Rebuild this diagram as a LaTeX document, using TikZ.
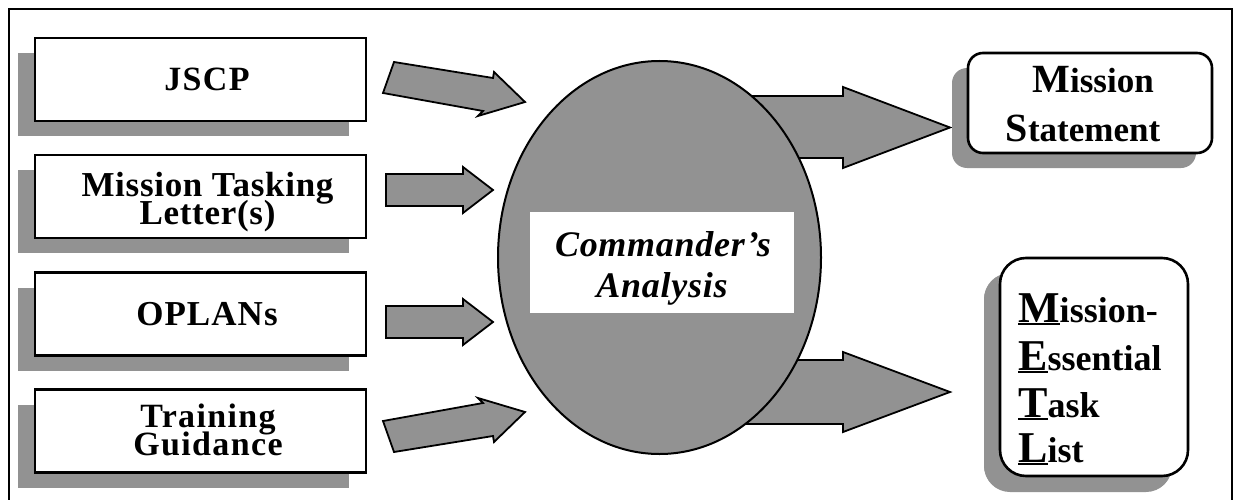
\documentclass[tikz,border=0pt]{standalone}
\usepackage{fontspec}
\setmainfont{Liberation Serif}
\usetikzlibrary{shapes.geometric,shadows}
\definecolor{shade}{RGB}{146,146,146}
\newcommand\capfirst[2]{{\fontsize{#1}{#1}\selectfont #2}}
\newcommand\ulcap[1]{\setbox0\hbox{\fontsize{44}{44}\selectfont #1}\rlap{\rule[-3pt]{\wd0}{2.4pt}}\box0}
\newcommand\tightskip{\lineskiplimit=-100pt\relax}
\begin{document}
\begin{tikzpicture}[x=1pt,y=-1pt,
  srcbox/.style={draw, line width=2.4pt, fill=white, minimum width=331pt, minimum height=83pt, inner sep=0pt,
    drop shadow={shadow xshift=-17pt, shadow yshift=-15pt, fill=shade, opacity=1}},
  outbox/.style={draw, line width=2.6pt, fill=white, inner sep=0pt,
    drop shadow={shadow xshift=-16pt, shadow yshift=-15pt, fill=shade, opacity=1}},
  srctext/.style={anchor=base, inner sep=0pt, align=center},
  blockarrow/.style={draw, line width=1.8pt, fill=shade, line join=miter},
  lbl/.style={anchor=base, inner sep=0pt},
  metl/.style={anchor=base west, inner sep=0pt, font=\fontsize{36}{36}\selectfont\bfseries}]
\useasboundingbox (0,0) rectangle (1236,500);
% frame
\draw[line width=2pt] (9,502) -- (9,9) -- (1232,9) -- (1232,502);

% source boxes
\node[srcbox] (jscp) at (200.5,79.5) {};
\node[srcbox] (mtl) at (200.5,196.5) {};
\node[srcbox] (oplan) at (200.5,314) {};
\node[srcbox] (train) at (200.5,431) {};
\node[srctext, font=\fontsize{34}{34}\selectfont\bfseries\addfontfeatures{LetterSpace=4}] (jscpt) at (207,90.7) {JSCP};
\node[srctext, font=\fontsize{35}{27.5}\selectfont\tightskip\bfseries\addfontfeatures{LetterSpace=2}] (mtlt) at (207.5,224) {Mission Tasking\\Letter(s)};
\node[srctext, font=\fontsize{35}{35}\selectfont\bfseries\addfontfeatures{LetterSpace=3}] (oplant) at (207,325) {OPLANs};
\node[srctext, font=\fontsize{34}{28}\selectfont\tightskip\bfseries\addfontfeatures{LetterSpace=4}] (traint) at (208,455) {Training\\Guidance};

% input arrows
\draw[blockarrow] (394,62) -- (493,78) -- (494,72) -- (525,102) -- (478,116) -- (483,111) -- (383,93) -- cycle;
\draw[blockarrow] (386,174) -- (463,174) -- (463,167) -- (493,190) -- (463,213) -- (463,206) -- (386,206) -- cycle;
\draw[blockarrow] (386,306) -- (463,306) -- (463,299) -- (493,322) -- (463,345) -- (463,338) -- (386,338) -- cycle;
\draw[blockarrow] (394,452) -- (493,436) -- (494,442) -- (525,412) -- (478,398) -- (483,403) -- (383,421) -- cycle;

% output arrows (behind ellipse)
\draw[blockarrow] (720,96) -- (843,96) -- (843,87) -- (950,127.5) -- (843,168) -- (843,158) -- (720,158) -- cycle;
\draw[blockarrow] (720,360) -- (843,360) -- (843,352) -- (950,392) -- (843,432) -- (843,424) -- (720,424) -- cycle;

% commander's analysis
\node[draw, ellipse, fill=shade, line width=2pt, minimum width=323pt, minimum height=393pt, inner sep=0pt] (ca) at (659.5,257.5) {};
\node[fill=white, minimum width=264pt, minimum height=101pt, inner sep=0pt] (cabox) at (662,262.5) {};
\node[lbl, font=\fontsize{36}{36}\selectfont\bfseries\itshape\addfontfeatures{LetterSpace=2}] (ca1) at (663,256) {Commander’s};
\node[lbl, font=\fontsize{36}{36}\selectfont\bfseries\itshape\addfontfeatures{LetterSpace=2}] (ca2) at (662,297) {Analysis};

% mission statement
\node[outbox, rounded corners=15pt, minimum width=244pt, minimum height=100pt] (ms) at (1090,103) {};
\node[lbl, font=\fontsize{35}{35}\selectfont\bfseries] (ms1) at (1093,93) {\capfirst{40}{M}ission};
\node[lbl, font=\fontsize{35}{35}\selectfont\bfseries] (ms2) at (1083,141) {\capfirst{40}{S}tatement};

% METL
\node[outbox, rounded corners=26pt, minimum width=188pt, minimum height=218pt,
  drop shadow={shadow xshift=-16pt, shadow yshift=-16pt, fill=shade, opacity=1}] (metlbox) at (1094,367) {};
\node[metl] (metl1) at (1018,322) {\ulcap{M}ission-};
\node[metl] (metl2) at (1018,370) {\ulcap{E}ssential};
\node[metl] (metl3) at (1018,417) {\ulcap{T}ask};
\node[metl] (metl4) at (1018,462) {\ulcap{L}ist};
\end{tikzpicture}
\end{document}
